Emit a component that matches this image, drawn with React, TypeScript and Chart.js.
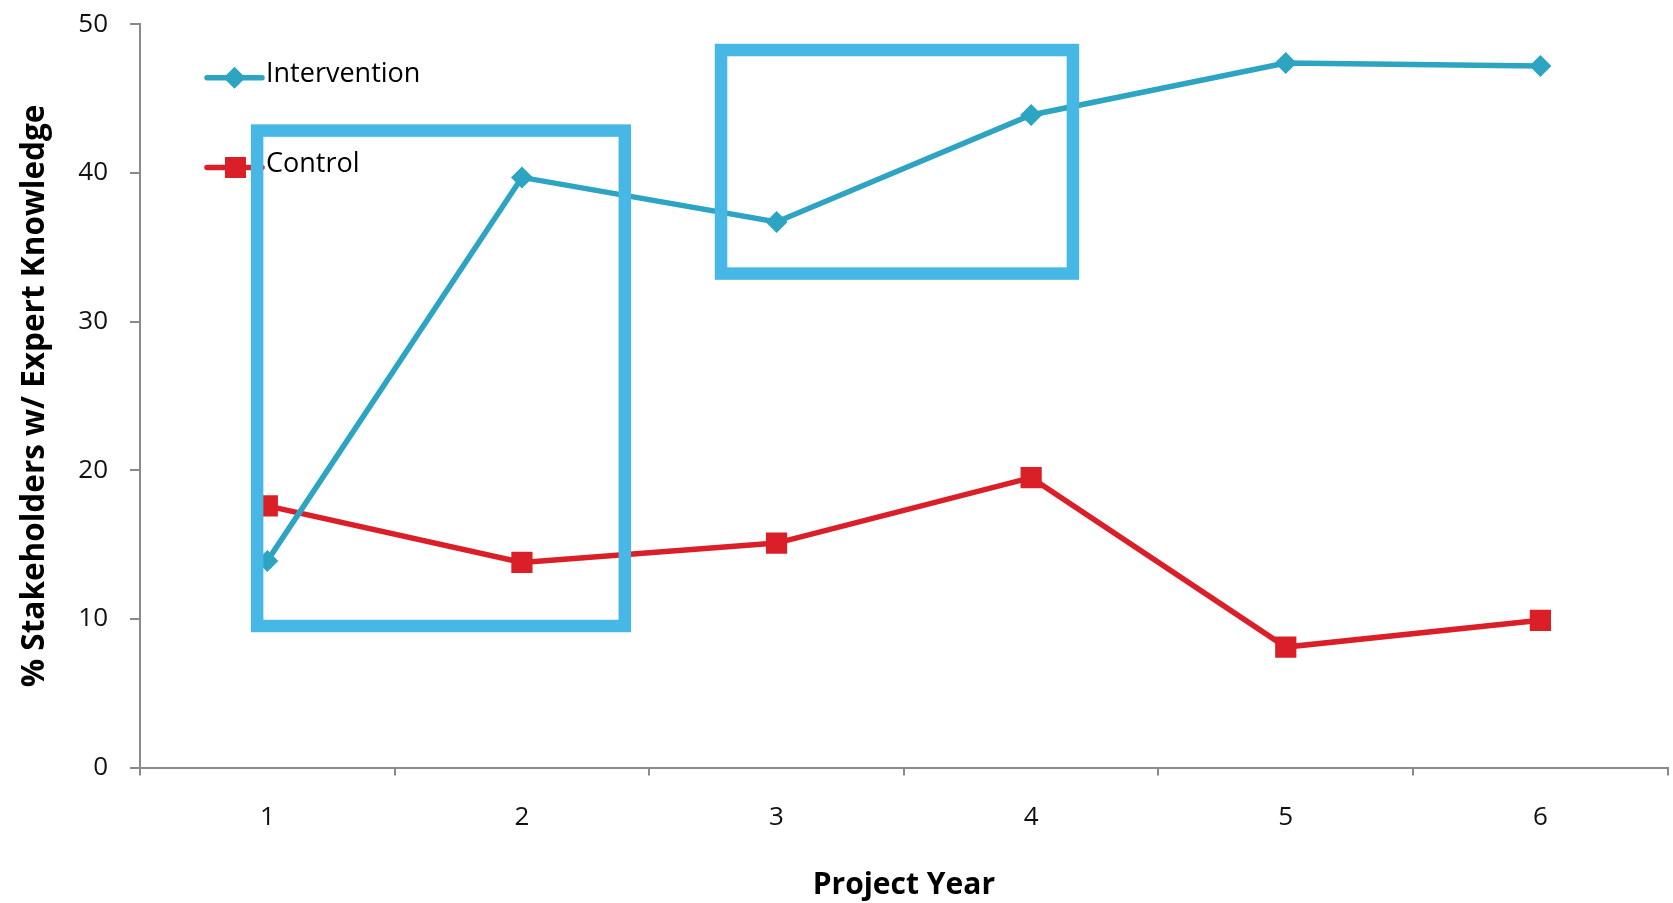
import React, { useEffect, useRef } from "react";
import { Chart, registerables } from "chart.js";

Chart.register(...registerables);

// ---- data ----
const projectYears = ["1", "2", "3", "4", "5", "6"];
const interventionValues = [13.9, 39.7, 36.7, 43.9, 47.4, 47.2];
const controlValues = [17.6, 13.8, 15.1, 19.5, 8.1, 9.9];
const yTickValues = [0, 10, 20, 30, 40, 50];
const seriesNames = ["Intervention", "Control"];

// highlight rectangles, in data coordinates (category index / value)
const boxXStart = [-0.04, 1.782];
const boxXEnd = [1.404, 3.164];
const boxYTop = [42.85, 48.27];
const boxYBottom = [9.52, 33.23];

const TEAL = "#2DA4C1";
const RED = "#DA1F28";
const BOX = "#47B8E5";
const AXIS = "#8A8A8A";
const FONT = "'Open Sans', 'Noto Sans', sans-serif";

const legendPlugin = {
  id: "insideLegend",
  afterDatasetsDraw(chart: any) {
    const ctx = chart.ctx;
    const items = [
      { label: seriesNames[0], color: TEAL, style: "diamond", y: 77.7 },
      { label: seriesNames[1], color: RED, style: "square", y: 167.5 },
    ];
    ctx.save();
    items.forEach((it) => {
      ctx.strokeStyle = it.color;
      ctx.fillStyle = it.color;
      ctx.lineWidth = 5.5;
      ctx.lineCap = "round";
      ctx.beginPath();
      ctx.moveTo(207, it.y);
      ctx.lineTo(262, it.y);
      ctx.stroke();
      ctx.beginPath();
      if (it.style === "diamond") {
        const cx = 234.5, r = 11;
        ctx.moveTo(cx - r, it.y);
        ctx.lineTo(cx, it.y - r);
        ctx.lineTo(cx + r, it.y);
        ctx.lineTo(cx, it.y + r);
        ctx.closePath();
      } else {
        ctx.rect(225, it.y - 10.5, 21, 21);
      }
      ctx.fill();
      ctx.fillStyle = "#000";
      ctx.font = `27px ${FONT}`;
      ctx.textBaseline = "middle";
      ctx.textAlign = "left";
      ctx.fillText(it.label, 266, it.y - 3);
    });
    ctx.restore();
  },
};

const boxesPlugin = {
  id: "highlightBoxes",
  afterDraw(chart: any) {
    const ctx = chart.ctx;
    const xs = chart.scales.x;
    const ys = chart.scales.y;
    ctx.save();
    ctx.strokeStyle = BOX;
    ctx.lineWidth = 12.5;
    ctx.lineJoin = "miter";
    for (let i = 0; i < boxXStart.length; i++) {
      const x1 = xs.getPixelForValue(boxXStart[i]);
      const x2 = xs.getPixelForValue(boxXEnd[i]);
      const y1 = ys.getPixelForValue(boxYTop[i]);
      const y2 = ys.getPixelForValue(boxYBottom[i]);
      ctx.strokeRect(x1, y1, x2 - x1, y2 - y1);
    }
    ctx.restore();
  },
};

export default function App() {
  const ref = useRef<HTMLCanvasElement | null>(null);

  useEffect(() => {
    document.body.style.margin = "0";
    const canvas = ref.current;
    if (!canvas) return;
    const chart = new Chart(canvas, {
      type: "line",
      data: {
        labels: projectYears,
        datasets: [
          {
            label: seriesNames[0],
            data: interventionValues,
            borderColor: TEAL,
            backgroundColor: TEAL,
            borderWidth: 5.5,
            pointStyle: "rectRot",
            pointRadius: 11,
            pointBorderWidth: 0,
            pointBackgroundColor: TEAL,
            tension: 0,
          },
          {
            label: seriesNames[1],
            data: controlValues,
            borderColor: RED,
            backgroundColor: RED,
            borderWidth: 5.5,
            pointStyle: "rect",
            pointRadius: 15,
            pointBorderWidth: 0,
            pointBackgroundColor: RED,
            tension: 0,
          },
        ],
      },
      options: {
        responsive: false,
        animation: false,
        layout: {
          autoPadding: false,
          padding: { top: 24.3, right: 5.3, left: 0, bottom: 0 },
        },
        plugins: {
          legend: { display: false },
          tooltip: { enabled: false },
        },
        scales: {
          x: {
            type: "category",
            offset: true,
            grid: {
              display: true,
              offset: true,
              drawOnChartArea: false,
              drawTicks: true,
              tickLength: 8,
              color: AXIS,
              lineWidth: 2,
            },
            border: { display: true, color: AXIS, width: 2 },
            ticks: {
              font: { family: FONT, size: 26 },
              color: "#111",
              padding: 26.5,
            },
            title: {
              display: true,
              text: "Project Year",
              font: { family: FONT, size: 30, weight: "bold" },
              color: "#000",
              padding: { top: 0, bottom: 0 },
            },
            afterFit: (s: any) => {
              s.height = 135.5;
              s.paddingLeft = 0;
              s.paddingRight = 0;
            },
          },
          y: {
            min: 0,
            max: 50,
            afterBuildTicks: (s: any) => {
              s.ticks = yTickValues.map((v) => ({ value: v }));
            },
            grid: {
              display: true,
              drawOnChartArea: false,
              drawTicks: true,
              tickLength: 10,
              color: AXIS,
              lineWidth: 2,
            },
            border: { display: true, color: AXIS, width: 2 },
            ticks: {
              font: { family: FONT, size: 26 },
              color: "#111",
              padding: 22,
            },
            title: {
              display: true,
              text: "% Stakeholders w/ Expert Knowledge",
              font: { family: FONT, size: 31.5, weight: "bold" },
              color: "#000",
              padding: { top: 16, bottom: 0 },
            },
            afterFit: (s: any) => {
              s.width = 140;
              s.paddingTop = 0;
              s.paddingBottom = 0;
            },
          },
        },
      },
      plugins: [legendPlugin, boxesPlugin],
    } as any);
    return () => chart.destroy();
  }, []);

  return (
    <div style={{ width: 1673, height: 903 }}>
      <canvas ref={ref} width={1673} height={903} style={{ display: "block" }} />
    </div>
  );
}
